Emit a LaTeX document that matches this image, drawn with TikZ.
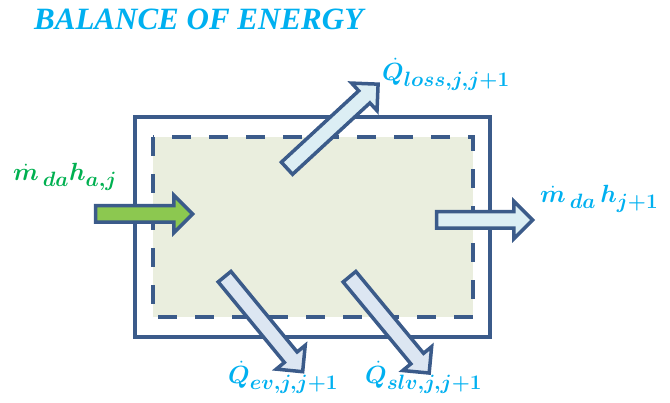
\documentclass[tikz,border=0pt]{standalone}
\usepackage{amsmath,bm}
\usepackage{fontspec}
\setmainfont{Liberation Serif}
\usetikzlibrary{shapes.arrows}
\definecolor{edge}{HTML}{3B5B8A}
\definecolor{innerfill}{HTML}{EAEEDE}
\definecolor{arrowgreen}{HTML}{8CC850}
\definecolor{arrowblue}{HTML}{DCEEF4}
\definecolor{arrowlav}{HTML}{DCE6F2}
\definecolor{titleblue}{HTML}{00B0F0}
\definecolor{labgreen}{HTML}{00B050}
\tikzset{
  blockarrow/.style={single arrow, draw=edge, line width=3.5pt, inner sep=0pt,
    inner ysep=6.5pt, single arrow head extend=10.5pt, single arrow tip angle=90,
    minimum width=0pt, line join=miter},
  lab/.style={anchor=west, inner sep=0pt, font=\fontsize{30}{34}\selectfont},
}
\begin{document}
\begin{tikzpicture}[x=1pt,y=-1pt]
\useasboundingbox (0,0) rectangle (670,403);
% outer and inner boxes
\draw[edge, line width=3.5pt] (135,117) rectangle (490,337);
\draw[edge, line width=3.5pt, fill=innerfill, dash pattern=on 19pt off 18pt] (153,137) rectangle (473,317);
% arrows
\node[blockarrow, fill=arrowgreen, minimum height=97pt] (inarrow) at (140,214) {};
\node[blockarrow, fill=arrowblue, minimum height=96pt] (outarrow) at (480.5,220) {};
\node[blockarrow, fill=arrowblue, minimum height=124pt, rotate=42.7] (lossarrow) at (329.5,129) {};
\node[blockarrow, fill=arrowlav, minimum height=123pt, rotate=-50.6] (evarrow) at (261,321) {};
\node[blockarrow, fill=arrowlav, minimum height=125pt, rotate=-50.4] (slvarrow) at (386.7,321.7) {};
% texts
\node[anchor=west, inner sep=0pt, text=titleblue, font=\bfseries\itshape\fontsize{31}{34}\selectfont] (title) at (34,19) {BALANCE OF ENERGY};
\node[lab, text=labgreen] (inlab) at (13,177) {$\bm{\dot{m}_{\,da}h_{a,j}}$};
\node[lab, text=titleblue] (outlab) at (540,199) {$\bm{\dot{m}_{\,da}\,h_{j+1}}$};
\node[lab, text=titleblue] (losslab) at (382,74) {$\bm{\dot{Q}_{loss,j,j+1}}$};
\node[lab, text=titleblue] (evlab) at (228,377) {$\bm{\dot{Q}_{ev,j,j+1}}$};
\node[lab, text=titleblue] (slvlab) at (365,377) {$\bm{\dot{Q}_{slv,j,j+1}}$};
\end{tikzpicture}
\end{document}
